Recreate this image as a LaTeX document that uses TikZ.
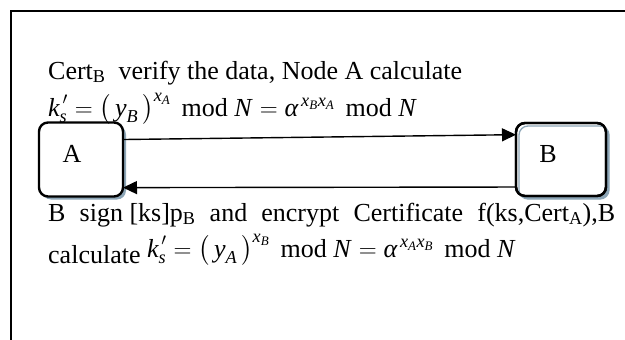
\documentclass[tikz,border=0pt]{standalone}
\usepackage{fontspec}
\setmainfont{Liberation Serif}
\usepackage{amsmath}
\usetikzlibrary{arrows.meta,calc,shadows}
\definecolor{shadowc}{RGB}{140,165,182}
\newcommand\vi[1]{\textit{#1}}
% key equation, with the indices as arguments
\newcommand\keyeq[4]{$\vi{k}_{\vi{s}}^{\,\prime}=\bigl(\,\vi{y}_{\vi{#1}}\,\bigr)^{\vi{x}_{\vi{#2}}}$\, mod \vi{N}${}=\vi{α}^{\,\vi{x}_{\vi{#3}}\vi{x}_{\vi{#4}}}$\, mod \vi{N}}
\begin{document}
\begin{tikzpicture}[x=1pt,y=-1pt,
  font=\fontsize{26}{30}\selectfont,
  box/.style={draw, line width=2.4pt, rounded corners=9pt, fill=white, outer sep=0pt,
    minimum width=84pt, minimum height=74pt,
    drop shadow={shadow xshift=3pt, shadow yshift=-3pt, fill=shadowc, opacity=1}},
  lbl/.style={inner sep=0pt, anchor=base west},
  msg/.style={-{Triangle[length=14pt,width=13pt]}, line width=1.4pt}]
\useasboundingbox (0,0) rectangle (625,340);
% outer frame (open to the right and bottom)
\draw[line width=2pt] (11,340) -- (11,11) -- (625,11);

% the two parties
\node[box] (A) at (81,159.5) {};
\node[box, minimum width=90pt, minimum height=73pt] (B) at (561,159.5) {};
\draw[shadowc, line width=1.3pt, rounded corners=9pt]
  ($(B.south west)+(3,3)$) rectangle ($(B.north east)+(3,3)$);
\draw[line width=2.4pt, rounded corners=9pt] (B.south west) rectangle (B.north east);
\node[inner sep=0pt] (Alabel) at (72,154) {A};
\node[inner sep=0pt] (Blabel) at (548,154) {B};

% messages
\draw[msg] ($(A.north east)!0.23!(A.south east)$) -- ($(B.north west)!0.16!(B.south west)$);
\draw[msg] ($(B.north west)!0.877!(B.south west)$) -- ($(A.north east)!0.88!(A.south east)$);

% descriptions
\node[lbl] (t1) at (48,79) {Cert\textsubscript{B}\ \ verify the data, Node A calculate};
\node[lbl] (t2) at (48,116) {\keyeq{B}{A}{B}{A}};
\node[lbl] (t3) at (48,221) {\hbox to 567pt{B\hfill sign [ks]p\textsubscript{B}\hfill and\hfill encrypt\hfill Certificate\hfill f(ks,Cert\textsubscript{A}),B}};
\node[lbl] (t4) at (48,263) {calculate \raisebox{6pt}{\keyeq{A}{B}{A}{B}}};
\end{tikzpicture}
\end{document}
